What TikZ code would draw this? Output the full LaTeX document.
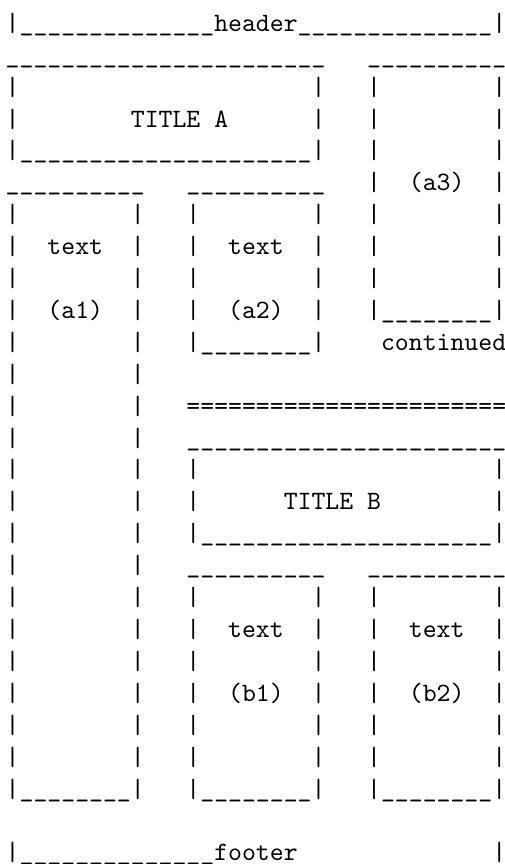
\documentclass[tikz,border=0pt]{standalone}
\ExplSyntaxOn
\cs_new:Npn \xrep #1#2 { \prg_replicate:nn {#1} {#2} }
\ExplSyntaxOff
\newcommand\xsp[1]{\xrep{#1}{\ }}
\newcommand\xus[1]{\xrep{#1}{\_}}
\tikzset{
  asciirow/.style={anchor=base west, inner sep=0pt, outer sep=0pt,
    font=\fontsize{10}{12}\selectfont\ttfamily, text=black}
}
\begin{document}
\begin{tikzpicture}
\fill[white] (0,0) rectangle (190.7pt,-326.3pt);
\useasboundingbox (0,0) rectangle (190.7pt,-326.3pt);
\begin{scope}[shift={(2.17pt,-11.82pt)}, x=5.25pt, y=-12.05pt]
\node[asciirow] (r0)  at (0,0)  {|\xus{14}header\xus{14}|};
\node[asciirow] (r1)  at (0,1)  {\xus{23}\xsp{3}\xus{10}};
\node[asciirow] (r2)  at (0,2)  {|\xsp{21}|\xsp{3}|\xsp{8}|};
\node[asciirow] (r3)  at (0,3)  {|\xsp{8}TITLE\ A\xsp{6}|\xsp{3}|\xsp{8}|};
\node[asciirow] (r4)  at (0,4)  {|\xus{21}|\xsp{3}|\xsp{8}|};
\node[asciirow] (r5)  at (0,5)  {\xus{10}\xsp{3}\xus{10}\xsp{3}|\xsp{2}(a3)\xsp{2}|};
\node[asciirow] (r6)  at (0,6)  {|\xsp{8}|\xsp{3}|\xsp{8}|\xsp{3}|\xsp{8}|};
\node[asciirow] (r7)  at (0,7)  {|\xsp{2}text\xsp{2}|\xsp{3}|\xsp{2}text\xsp{2}|\xsp{3}|\xsp{8}|};
\node[asciirow] (r8)  at (0,8)  {|\xsp{8}|\xsp{3}|\xsp{8}|\xsp{3}|\xsp{8}|};
\node[asciirow] (r9)  at (0,9)  {|\xsp{2}(a1)\xsp{2}|\xsp{3}|\xsp{2}(a2)\xsp{2}|\xsp{3}|\xus{8}|};
\node[asciirow] (r10) at (0,10) {|\xsp{8}|\xsp{3}|\xus{8}|\xsp{4}continued};
\node[asciirow] (r11) at (0,11) {|\xsp{8}|};
\node[asciirow] (r12) at (0,12) {|\xsp{8}|\xsp{3}\xrep{23}{=}};
\node[asciirow] (r13) at (0,13) {|\xsp{8}|\xsp{3}\xus{23}};
\node[asciirow] (r14) at (0,14) {|\xsp{8}|\xsp{3}|\xsp{21}|};
\node[asciirow] (r15) at (0,15) {|\xsp{8}|\xsp{3}|\xsp{6}TITLE\ B\xsp{8}|};
\node[asciirow] (r16) at (0,16) {|\xsp{8}|\xsp{3}|\xus{21}|};
\node[asciirow] (r17) at (0,17) {|\xsp{8}|\xsp{3}\xus{10}\xsp{3}\xus{10}};
\node[asciirow] (r18) at (0,18) {|\xsp{8}|\xsp{3}|\xsp{8}|\xsp{3}|\xsp{8}|};
\node[asciirow] (r19) at (0,19) {|\xsp{8}|\xsp{3}|\xsp{2}text\xsp{2}|\xsp{3}|\xsp{2}text\xsp{2}|};
\node[asciirow] (r20) at (0,20) {|\xsp{8}|\xsp{3}|\xsp{8}|\xsp{3}|\xsp{8}|};
\node[asciirow] (r21) at (0,21) {|\xsp{8}|\xsp{3}|\xsp{2}(b1)\xsp{2}|\xsp{3}|\xsp{2}(b2)\xsp{2}|};
\node[asciirow] (r22) at (0,22) {|\xsp{8}|\xsp{3}|\xsp{8}|\xsp{3}|\xsp{8}|};
\node[asciirow] (r23) at (0,23) {|\xsp{8}|\xsp{3}|\xsp{8}|\xsp{3}|\xsp{8}|};
\node[asciirow] (r24) at (0,24) {|\xus{8}|\xsp{3}|\xus{8}|\xsp{3}|\xus{8}|};
\node[asciirow] (r26) at (0,26) {|\xus{14}footer\xsp{14}|};
\end{scope}
\end{tikzpicture}
\end{document}
